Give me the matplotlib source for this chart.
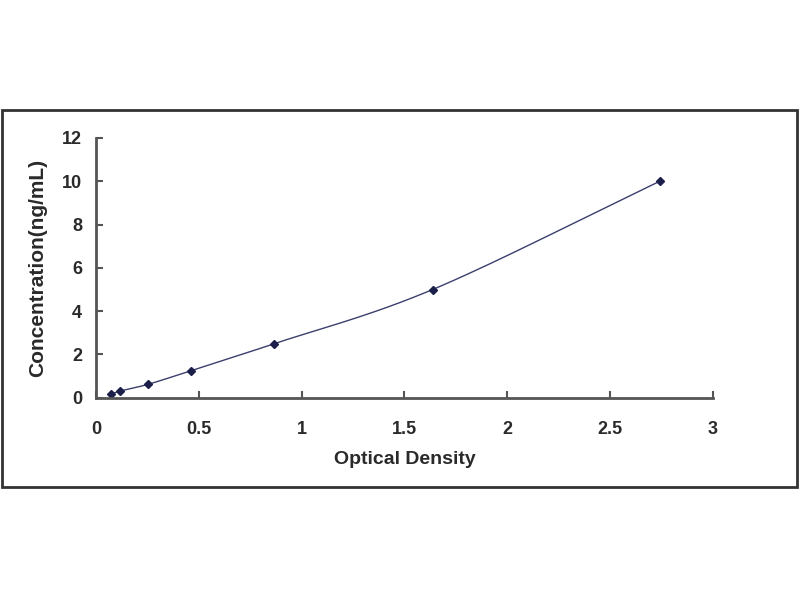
import numpy as np
import matplotlib.pyplot as plt
from matplotlib.patches import Rectangle

plt.rcParams['font.family'] = ['Liberation Sans', 'DejaVu Sans']

# standard curve points
od = [0.073, 0.117, 0.254, 0.462, 0.867, 1.637, 2.742]
conc = [0.156, 0.312, 0.625, 1.25, 2.5, 5, 10]

x_ticks = [0, 0.5, 1, 1.5, 2, 2.5, 3]
x_tick_labels = ['0', '0.5', '1', '1.5', '2', '2.5', '3']
y_ticks = [0, 2, 4, 6, 8, 10, 12]


def smooth(xs, ys, n=30):
    # catmull-rom style curve through the points, like a spreadsheet smoothed line
    xs = np.asarray(xs, float)
    ys = np.asarray(ys, float)
    px = np.concatenate([[2 * xs[0] - xs[1]], xs, [2 * xs[-1] - xs[-2]]])
    py = np.concatenate([[2 * ys[0] - ys[1]], ys, [2 * ys[-1] - ys[-2]]])
    outx, outy = [], []
    t = np.linspace(0, 1, n)
    for i in range(1, len(px) - 2):
        for p, out in ((px, outx), (py, outy)):
            p0, p1, p2, p3 = p[i - 1], p[i], p[i + 1], p[i + 2]
            out.extend(0.5 * ((2 * p1) + (-p0 + p2) * t +
                              (2 * p0 - 5 * p1 + 4 * p2 - p3) * t ** 2 +
                              (-p0 + 3 * p1 - 3 * p2 + p3) * t ** 3))
    return outx, outy


fig = plt.figure(figsize=(8, 6), dpi=100)
fig.patches.append(Rectangle((0.003, 0.188), 0.993, 0.628, transform=fig.transFigure,
                             fill=False, edgecolor='#333333', linewidth=2))

ax = fig.add_axes([0.12, 0.337, 0.771, 0.433])
sx, sy = smooth(od, conc)
ax.plot(sx, sy, color='#3a3f6e', linewidth=1)
ax.plot(od, conc, linestyle='none', marker='D', markersize=4, color='#1c1f4a')

ax.set_xlim(0, 3)
ax.set_ylim(0, 12)
ax.set_xticks(x_ticks)
ax.set_xticklabels(x_tick_labels)
ax.set_yticks(y_ticks)
for s in ['top', 'right']:
    ax.spines[s].set_visible(False)
for s in ['left', 'bottom']:
    ax.spines[s].set_color('#555555')
    ax.spines[s].set_linewidth(2)
ax.tick_params(direction='in', length=5, width=1.5, color='#555555', labelsize=13)
ax.tick_params(axis='x', pad=17)
ax.tick_params(axis='y', pad=10)
for lab in ax.get_xticklabels() + ax.get_yticklabels():
    lab.set_fontweight('bold')
    lab.set_color('#2a2a2a')
ax.set_xlabel('Optical Density', fontsize=14, fontweight='bold', color='#2a2a2a', labelpad=9)
ax.set_ylabel('Concentration(ng/mL)', fontsize=15, fontweight='bold', color='#2a2a2a', labelpad=11)

fig.savefig('out.png')
